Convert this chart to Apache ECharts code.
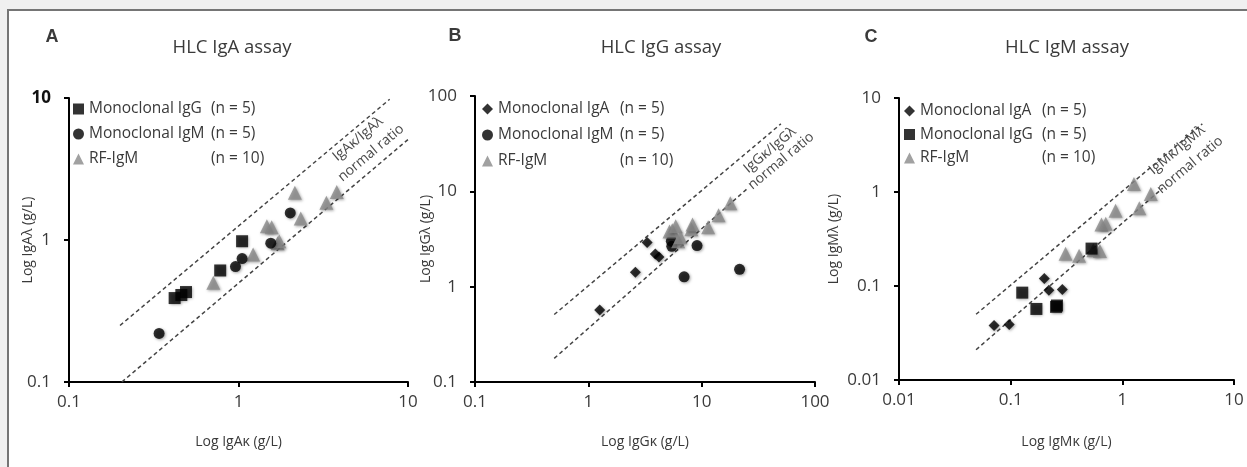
<!DOCTYPE html>
<html>
<head>
<meta charset="utf-8">
<title>HLC assays</title>
<script src="https://cdn.jsdelivr.net/npm/echarts@6/dist/echarts.min.js"></script>
<style>
    html, body {
        margin: 0;
        padding: 0;
        background: #f0f0f0;
    }
    #frame {
        position: absolute;
        left: 7px;
        top: 9px;
        width: 1240px;
        height: 458px;
        background: #fff;
        border-top: 2px solid #757575;
        border-left: 2px solid #757575;
    }
    #chart {
        position: absolute;
        left: 0;
        top: 0;
        width: 1247px;
        height: 467px;
    }
</style>
</head>
<body>
<div id="frame"></div>
<div id="chart"></div>
<script>
// A: HLC IgA assay (kappa on x, lambda on y)
const aIgGk = [0.42, 0.46, 0.49, 0.78, 1.05]
const aIgGl = [0.39, 0.41, 0.43, 0.61, 0.98]
const aIgMk = [0.34, 0.96, 1.05, 1.55, 2.02]
const aIgMl = [0.22, 0.65, 0.74, 0.95, 1.55]
const aRFk = [0.71, 1.22, 1.47, 1.57, 1.70, 1.74, 2.15, 2.33, 3.3, 3.8]
const aRFl = [0.50, 0.79, 1.25, 1.23, 0.95, 0.98, 2.15, 1.42, 1.83, 2.18]
const aUpper = [[0.2, 0.25], [7.8, 9.8]]
const aLower = [[0.205, 0.1], [10, 5.1]]

// B: HLC IgG assay
const bIgAk = [1.26, 2.6, 3.3, 3.9, 4.2]
const bIgAl = [0.57, 1.42, 2.9, 2.2, 2.05]
const bIgMk = [5.4, 5.45, 7.0, 9.1, 21.6]
const bIgMl = [3.0, 2.65, 1.27, 2.7, 1.52]
const bRFk = [5.2, 5.5, 5.9, 6.2, 6.5, 8.1, 8.3, 11.4, 14.1, 17.9]
const bRFl = [3.8, 3.9, 4.3, 3.0, 3.3, 4.0, 4.5, 4.2, 5.6, 7.5]
const bUpper = [[0.5, 0.51], [50, 51]]
const bLower = [[0.5, 0.177], [26, 11]]

// C: HLC IgM assay
const cIgAk = [0.071, 0.097, 0.20, 0.22, 0.29]
const cIgAl = [0.038, 0.039, 0.12, 0.09, 0.092]
const cIgGk = [0.127, 0.17, 0.255, 0.26, 0.53]
const cIgGl = [0.085, 0.057, 0.06, 0.062, 0.25]
const cRFk = [0.31, 0.41, 0.55, 0.63, 0.65, 0.71, 0.87, 1.27, 1.42, 1.8]
const cRFl = [0.22, 0.21, 0.24, 0.235, 0.45, 0.46, 0.63, 1.22, 0.67, 0.95]
const cUpper = [[0.049, 0.05], [5.2, 5.3]]
const cLower = [[0.049, 0.021], [2.3, 1.1]]

const FONT = 'Open Sans'
const TXT = '#3a3a3a'

const zip = (xs, ys) => xs.map((x, i) => [x, ys[i]])

// n shown in legend comes from the data itself
const counts = {
    'Monoclonal IgG': aIgGk.length,
    'Monoclonal IgM': aIgMk.length,
    'Monoclonal IgA': bIgAk.length,
    'RF-IgM': aRFk.length,
}

const symbols = {
    'Monoclonal IgG': { symbol: 'rect', size: 12, color: '#000' },
    'Monoclonal IgM': { symbol: 'circle', size: 11, color: '#000' },
    'Monoclonal IgA': { symbol: 'diamond', size: 11, color: '#000' },
    'RF-IgM': { symbol: 'triangle', size: 14, color: '#8a8a8a' },
}

function scatter(name, idx, xs, ys, z) {
    let s = symbols[name]
    return {
        name: name,
        type: 'scatter',
        xAxisIndex: idx,
        yAxisIndex: idx,
        symbol: s.symbol,
        symbolSize: s.size,
        z: z,
        itemStyle: {
            color: s.color,
            shadowBlur: 3,
            shadowColor: 'rgba(0,0,0,0.45)',
            shadowOffsetX: 1,
            shadowOffsetY: 1,
        },
        data: zip(xs, ys),
    }
}

function refLine(idx, pts) {
    return {
        type: 'line',
        xAxisIndex: idx,
        yAxisIndex: idx,
        symbol: 'none',
        silent: true,
        z: 1,
        lineStyle: { color: '#444', width: 1.5, type: [4, 3] },
        data: pts,
    }
}

function logAxis(idx, min, max, name, gap, isY, boldTop) {
    return {
        type: 'log',
        logBase: 10,
        gridIndex: idx,
        min: min,
        max: max,
        name: name,
        nameLocation: 'middle',
        nameGap: gap,
        nameMoveOverlap: false,
        nameTextStyle: { fontFamily: FONT, fontSize: 14, color: TXT },
        axisLine: { lineStyle: { color: '#000', width: 2 } },
        axisTick: { length: 5, lineStyle: { color: '#000', width: 2 } },
        splitLine: { show: false },
        axisLabel: {
            fontFamily: FONT,
            fontSize: 17,
            color: TXT,
            margin: isY ? 18 : 12,
            formatter: v => {
                let t = String(Number(v.toPrecision(3)))
                return boldTop && v === max ? '{b|' + t + '}' : t
            },
            rich: {
                b: { fontFamily: FONT, fontSize: 17, fontWeight: 'bold', color: '#111' },
            },
        },
    }
}

function legend(left, top, gap, names) {
    return {
        orient: 'vertical',
        left: left,
        top: top,
        padding: 0,
        itemGap: gap,
        itemWidth: 11,
        itemHeight: 11,
        selectedMode: false,
        data: names,
        formatter: name => '{a|' + name + '}{b|(n = ' + counts[name] + ')}',
        textStyle: {
            fontFamily: FONT,
            fontSize: 15.5,
            color: TXT,
            rich: {
                a: { width: 122, fontFamily: FONT, fontSize: 15.5, lineHeight: 18, color: TXT },
                b: { fontFamily: FONT, fontSize: 15.5, lineHeight: 18, color: TXT },
            },
        },
    }
}

function label(x, y, text, size, bold, rot) {
    return {
        type: 'text',
        x: x,
        y: y,
        rotation: rot ? (rot * Math.PI) / 180 : 0,
        style: {
            text: text,
            fontFamily: bold ? 'Liberation Sans' : FONT,
            fontSize: size,
            fontWeight: bold ? 'bold' : 'normal',
            fill: rot ? '#4a4a4a' : TXT,
            textAlign: 'center',
            textVerticalAlign: 'middle',
        },
    }
}

var myChart = echarts.init(document.getElementById('chart'))
var option = {
    animation: false,
    grid: [
        { left: 69, top: 98, width: 339, height: 284 },
        { left: 475, top: 96, width: 340, height: 286 },
        { left: 899, top: 98, width: 335, height: 282 },
    ],
    xAxis: [
        logAxis(0, 0.1, 10, 'Log IgAκ (g/L)', 53),
        logAxis(1, 0.1, 100, 'Log IgGκ (g/L)', 53),
        logAxis(2, 0.01, 10, 'Log IgMκ (g/L)', 55),
    ],
    yAxis: [
        logAxis(0, 0.1, 10, 'Log IgAλ (g/L)', 34, true, true),
        logAxis(1, 0.1, 100, 'Log IgGλ (g/L)', 42, true),
        logAxis(2, 0.01, 10, 'Log IgMλ (g/L)', 58, true),
    ],
    legend: [
        legend(73, 101, 9, [
            { name: 'Monoclonal IgG', icon: 'rect' },
            { name: 'Monoclonal IgM', icon: 'circle' },
            { name: 'RF-IgM', icon: 'triangle' },
        ]),
        legend(482, 101, 10, [
            { name: 'Monoclonal IgA', icon: 'diamond' },
            { name: 'Monoclonal IgM', icon: 'circle' },
            { name: 'RF-IgM', icon: 'triangle' },
        ]),
        legend(904, 103, 7.5, [
            { name: 'Monoclonal IgA', icon: 'diamond' },
            { name: 'Monoclonal IgG', icon: 'rect' },
            { name: 'RF-IgM', icon: 'triangle' },
        ]),
    ],
    series: [
        refLine(0, aUpper),
        refLine(0, aLower),
        scatter('RF-IgM', 0, aRFk, aRFl, 2),
        scatter('Monoclonal IgG', 0, aIgGk, aIgGl, 3),
        scatter('Monoclonal IgM', 0, aIgMk, aIgMl, 3),

        refLine(1, bUpper),
        refLine(1, bLower),
        scatter('Monoclonal IgA', 1, bIgAk, bIgAl, 2),
        scatter('Monoclonal IgM', 1, bIgMk, bIgMl, 2),
        scatter('RF-IgM', 1, bRFk, bRFl, 3),

        refLine(2, cUpper),
        refLine(2, cLower),
        scatter('RF-IgM', 2, cRFk, cRFl, 2),
        scatter('Monoclonal IgA', 2, cIgAk, cIgAl, 3),
        scatter('Monoclonal IgG', 2, cIgGk, cIgGl, 3),
    ],
    graphic: [
        label(52, 37, 'A', 18, true),
        label(455, 36, 'B', 18, true),
        label(871, 37, 'C', 18, true),
        label(232, 48, 'HLC IgA assay', 18.5),
        label(661, 48, 'HLC IgG assay', 18.5),
        label(1067, 48, 'HLC IgM assay', 18.5),
        label(358, 139, 'IgAκ/IgAλ', 14, false, 40),
        label(371, 153, 'normal ratio', 14, false, 40),
        label(770, 150, 'IgGκ/IgGλ', 14, false, 40),
        label(781, 161, 'normal ratio', 14, false, 40),
        label(1177, 150, 'IgMκ/IgMλ', 14, false, 40),
        label(1190, 165, 'normal ratio', 14, false, 40),
    ],
}
myChart.setOption(option)
</script>
</body>
</html>
